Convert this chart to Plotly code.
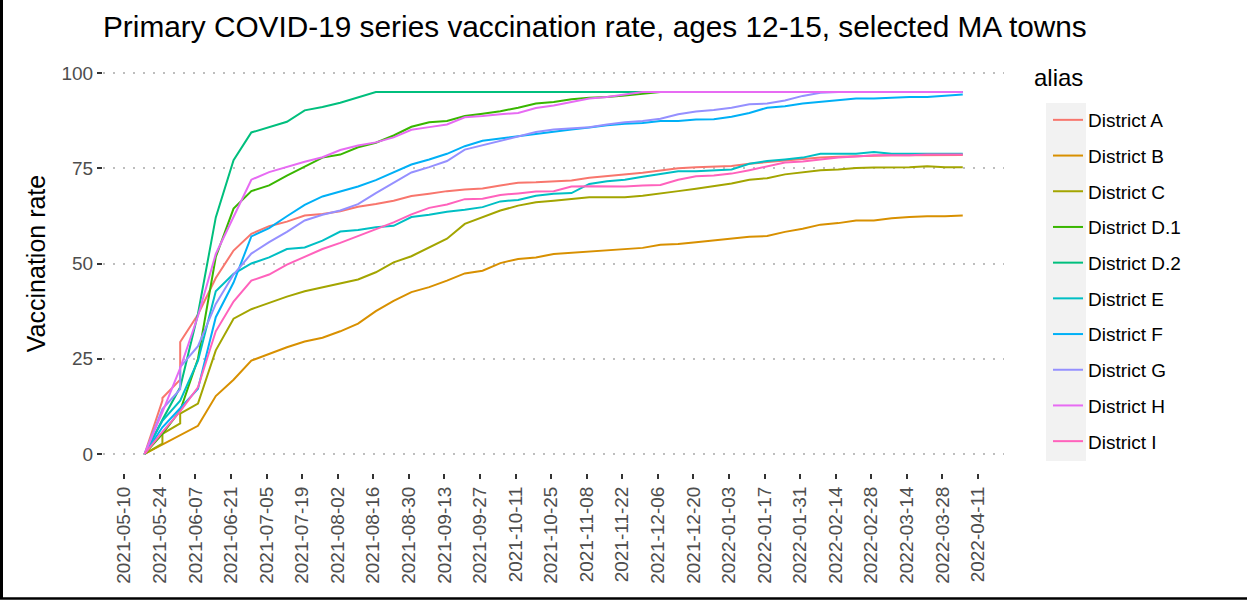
import plotly.graph_objects as go

# ---- data -------------------------------------------------------------
dates = [
    "2021-05-18", "2021-05-25", "2021-05-25", "2021-06-01", "2021-06-01",
    "2021-06-08", "2021-06-15", "2021-06-22", "2021-06-29", "2021-07-06",
    "2021-07-13", "2021-07-20", "2021-07-27", "2021-08-03", "2021-08-10",
    "2021-08-17", "2021-08-24", "2021-08-31", "2021-09-07", "2021-09-14",
    "2021-09-21", "2021-09-28", "2021-10-05", "2021-10-12", "2021-10-19",
    "2021-10-26", "2021-11-02", "2021-11-09", "2021-11-16", "2021-11-23",
    "2021-11-30", "2021-12-07", "2021-12-14", "2021-12-21", "2021-12-28",
    "2022-01-04", "2022-01-11", "2022-01-18", "2022-01-25", "2022-02-01",
    "2022-02-08", "2022-02-15", "2022-02-22", "2022-03-01", "2022-03-08",
    "2022-03-15", "2022-03-22", "2022-03-29", "2022-04-05",
]

district_a = [0, 14.0, 14.7, 19.5, 29.4, 36.6, 46.2, 53.4, 57.8, 59.8, 61.0, 62.6, 63.0, 63.7,
              64.9, 65.6, 66.5, 67.7, 68.3, 69.0, 69.4, 69.7, 70.5, 71.2, 71.3, 71.6, 71.8,
              72.5, 72.9, 73.3, 73.8, 74.4, 75.0, 75.3, 75.4, 75.6, 76.2, 76.6, 76.9, 77.3,
              77.8, 78.0, 78.1, 78.4, 78.4, 78.4, 78.4, 78.5, 78.5]
district_b = [0, 2.4, 2.4, 4.9, 4.9, 7.4, 15.2, 19.5, 24.5, 26.3, 28.0, 29.5, 30.5, 32.2,
              34.2, 37.5, 40.2, 42.5, 43.8, 45.5, 47.4, 48.1, 50.1, 51.2, 51.6, 52.5, 52.8,
              53.0, 53.4, 53.7, 54.1, 54.9, 55.1, 55.6, 56.1, 56.5, 57.0, 57.2, 58.3, 59.1,
              60.2, 60.6, 61.3, 61.3, 61.9, 62.2, 62.4, 62.4, 62.6]
district_c = [0, 2.7, 5.3, 8.0, 10.6, 13.2, 27.2, 35.5, 38.0, 39.7, 41.3, 42.7, 43.8, 44.8,
              45.8, 47.7, 50.3, 51.9, 54.3, 56.5, 60.4, 62.1, 63.9, 65.2, 66.1, 66.5, 67.0,
              67.4, 67.4, 67.4, 67.8, 68.3, 69.0, 69.6, 70.3, 71.0, 72.0, 72.4, 73.4, 74.0,
              74.5, 74.7, 75.1, 75.2, 75.2, 75.3, 75.5, 75.3, 75.3]
district_d1 = [0, 5.3, 5.3, 11.4, 11.4, 25.0, 51.7, 64.4, 69.0, 70.5, 73.1, 75.4, 77.8, 78.6,
               80.5, 81.7, 83.6, 85.9, 87.1, 87.4, 88.7, 89.3, 90.0, 90.9, 92.0, 92.4, 93.1,
               93.5, 93.7, 94.1, 94.6, 95.0, 95.0, 95.0, 95.0, 95.0, 95.0, 95.0, 95.0, 95.0,
               95.0, 95.0, 95.0, 95.0, 95.0, 95.0, 95.0, 95.0, 95.0]
district_d2 = [0, 9.0, 9.0, 17.5, 17.5, 36.8, 62.1, 77.1, 84.4, 85.7, 87.2, 90.2, 91.1, 92.2,
               93.5, 95.0, 95.0, 95.0, 95.0, 95.0, 95.0, 95.0, 95.0, 95.0, 95.0, 95.0, 95.0,
               95.0, 95.0, 95.0, 95.0, 95.0, 95.0, 95.0, 95.0, 95.0, 95.0, 95.0, 95.0, 95.0,
               95.0, 95.0, 95.0, 95.0, 95.0, 95.0, 95.0, 95.0, 95.0]
district_e = [0, 8.7, 8.7, 14.0, 14.0, 24.5, 42.7, 47.3, 50.0, 51.6, 53.8, 54.2, 56.0, 58.4,
              58.8, 59.5, 59.9, 62.2, 62.8, 63.6, 64.1, 64.8, 66.3, 66.7, 67.8, 68.3, 68.5,
              70.9, 71.6, 72.0, 72.8, 73.5, 74.2, 74.2, 74.4, 74.7, 76.2, 76.9, 77.3, 77.8,
              78.8, 78.8, 78.8, 79.3, 78.8, 78.8, 78.8, 78.8, 78.8]
district_f = [0, 7.0, 7.0, 12.0, 12.0, 17.1, 35.9, 45.0, 57.1, 59.3, 62.4, 65.4, 67.6, 69.0,
              70.2, 71.9, 73.9, 76.0, 77.3, 78.8, 80.8, 82.2, 82.8, 83.4, 84.1, 84.7, 85.2,
              85.7, 86.3, 86.7, 86.9, 87.4, 87.4, 87.8, 87.9, 88.5, 89.5, 90.9, 91.3, 92.0,
              92.4, 92.7, 93.3, 93.3, 93.5, 93.7, 93.7, 94.1, 94.4]
district_g = [0, 11.8, 11.8, 17.0, 22.8, 28.3, 39.4, 47.1, 52.6, 55.6, 58.3, 61.3, 62.8, 63.9,
              65.6, 68.5, 71.3, 73.9, 75.3, 76.9, 79.9, 81.0, 82.2, 83.2, 84.5, 85.2, 85.6,
              85.8, 86.5, 87.1, 87.4, 88.0, 89.2, 89.9, 90.3, 90.9, 91.8, 92.0, 92.8, 94.0,
              94.8, 95.0, 95.0, 95.0, 95.0, 95.0, 95.0, 95.0, 95.0]
district_h = [0, 11.0, 11.0, 22.5, 22.5, 36.2, 52.5, 62.2, 72.0, 74.0, 75.4, 76.7, 77.9, 79.8,
              81.0, 81.8, 83.1, 85.1, 85.8, 86.5, 88.4, 88.7, 89.2, 89.5, 90.8, 91.5, 92.4,
              93.3, 93.7, 94.4, 95.0, 95.0, 95.0, 95.0, 95.0, 95.0, 95.0, 95.0, 95.0, 95.0,
              95.0, 95.0, 95.0, 95.0, 95.0, 95.0, 95.0, 95.0, 95.0]
district_i = [0, 5.8, 5.8, 11.2, 11.2, 17.5, 32.2, 40.0, 45.5, 47.1, 49.7, 51.7, 53.8, 55.4,
              57.2, 59.1, 60.8, 62.9, 64.6, 65.5, 66.9, 67.0, 68.0, 68.4, 68.9, 69.0, 70.2,
              70.3, 70.2, 70.2, 70.5, 70.6, 72.0, 72.9, 73.1, 73.6, 74.5, 75.5, 76.5, 76.8,
              77.3, 77.8, 78.1, 78.4, 78.4, 78.4, 78.6, 78.6, 78.6]

names = ["District A", "District B", "District C", "District D.1", "District D.2",
         "District E", "District F", "District G", "District H", "District I"]
series = [district_a, district_b, district_c, district_d1, district_d2,
          district_e, district_f, district_g, district_h, district_i]
colors = ["#F8766D", "#D89000", "#A3A500", "#39B600", "#00BF7D",
          "#00BFC4", "#00B0F6", "#9590FF", "#E76BF3", "#FF62BC"]
y_ticks = [0, 25, 50, 75, 100]

for nm, s in zip(names, series):
    if len(s) != len(dates):
        raise ValueError(f"{nm}: {len(s)} values vs {len(dates)} dates")

# ---- figure -----------------------------------------------------------
W, H = 1247, 600
ML, MR, MT, MB = 103, 243, 54, 127
PW, PH = W - ML - MR, H - MT - MB
FONT = "Liberation Sans, Arial, sans-serif"

def px_x(px):
    return (px - ML) / PW

def px_y(py):
    return (H - MB - py) / PH

fig = go.Figure()
for nm, s, c in zip(names, series, colors):
    fig.add_trace(go.Scatter(
        x=dates, y=s, mode="lines", name=nm, legendgroup=nm,
        line=dict(color=c, width=2),
    ))

fig.update_layout(
    width=W, height=H,
    margin=dict(l=ML, r=MR, t=MT, b=MB),
    paper_bgcolor="white", plot_bgcolor="white",
    font=dict(family=FONT, color="black"),
    title=dict(
        text="Primary COVID-19 series vaccination rate, ages 12-15, selected MA towns",
        font=dict(size=29.8, color="black", family=FONT),
        xref="paper", x=0, xanchor="left",
        yref="container", y=1 - 27 / H, yanchor="middle",
    ),
    xaxis=dict(
        type="date",
        range=["2021-05-01 14:50", "2022-04-21 05:30"],
        tick0="2021-05-10", dtick=14 * 24 * 3600 * 1000,
        tickformat="%Y-%m-%d", tickangle=-90,
        ticks="outside", ticklen=5, tickwidth=2, tickcolor="#333333",
        tickfont=dict(size=19, color="#4D4D4D", family=FONT),
        showgrid=False, zeroline=False, showline=False,
    ),
    yaxis=dict(
        range=[-5, 105],
        tickvals=y_ticks, ticktext=[str(v) for v in y_ticks],
        ticks="outside", ticklen=5, tickwidth=2, tickcolor="#333333",
        tickfont=dict(size=19, color="#4D4D4D", family=FONT),
        showgrid=True, gridcolor="#BEBEBE", gridwidth=2, griddash="2px,8px",
        zeroline=False, showline=False,
        title=dict(text="Vaccination rate", font=dict(size=25, color="black", family=FONT),
                   standoff=8),
    ),
    legend=dict(
        font=dict(size=19, color="black", family=FONT),
        bgcolor="rgba(0,0,0,0)",
        x=px_x(1048), xanchor="left",
        y=px_y(101), yanchor="top",
        traceorder="grouped", tracegroupgap=8,
    ),
    annotations=[
        dict(text="alias", xref="paper", yref="paper",
             x=px_x(1032), y=px_y(78), xanchor="left", yanchor="middle",
             showarrow=False, font=dict(size=24, color="black", family=FONT)),
    ],
    shapes=[
        # legend key background
        dict(type="rect", xref="paper", yref="paper",
             x0=px_x(1046), x1=px_x(1086), y0=px_y(461), y1=px_y(103),
             fillcolor="#F2F2F2", line=dict(width=0), layer="below"),
        # outer frame (left and bottom edges)
        dict(type="line", xref="paper", yref="paper",
             x0=px_x(1.5), x1=px_x(1.5), y0=px_y(0), y1=px_y(599),
             line=dict(color="black", width=3)),
        dict(type="line", xref="paper", yref="paper",
             x0=px_x(0), x1=px_x(W), y0=px_y(598.5), y1=px_y(598.5),
             line=dict(color="black", width=2.5)),
    ],
)

fig.write_html(
    "out.html",
    config={"displayModeBar": False},
    post_script="document.body.style.margin='0px';document.body.style.padding='0px';",
)
